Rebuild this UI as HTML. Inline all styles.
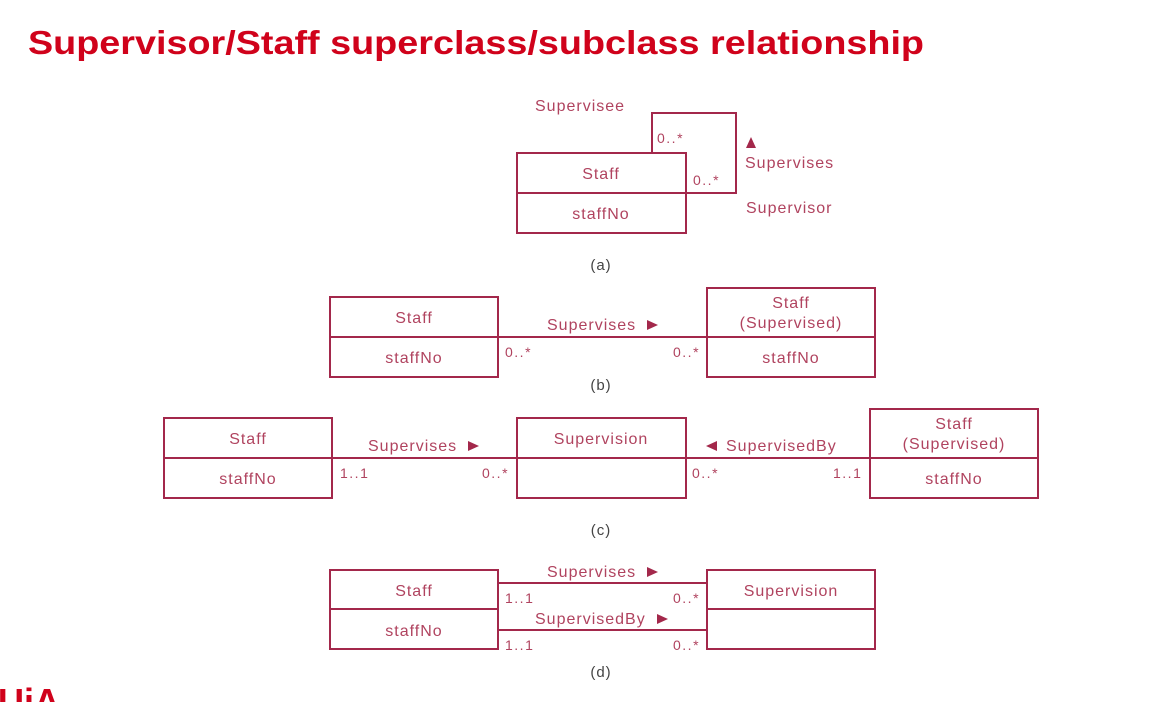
<!DOCTYPE html>
<html><head><meta charset="utf-8"><style>
html,body{margin:0;padding:0;background:#fff;width:1153px;height:702px;overflow:hidden}
svg{display:block}
text{font-family:"Liberation Sans",sans-serif}
.l{font-size:16px;fill:#b0435f;letter-spacing:1px}
.m{font-size:14px;fill:#b0435f;letter-spacing:1.5px}
.c{text-anchor:middle}
.r{fill:none;stroke:#a3284b;stroke-width:2}
.cap{font-size:15px;fill:#444;letter-spacing:1px}
</style></head><body>
<svg width="1153" height="702" viewBox="0 0 1153 702">
<text x="28" y="54" font-size="33" font-weight="bold" fill="#d0021b" textLength="896" lengthAdjust="spacingAndGlyphs">Supervisor/Staff superclass/subclass relationship</text>
<text x="-2" y="714" font-size="36" font-weight="bold" fill="#d0021b">UiA</text>

<!-- (a) -->
<rect class="r" x="517" y="153" width="169" height="80"/>
<line class="r" x1="517" y1="193" x2="686" y2="193"/>
<polyline class="r" points="652,153 652,113 736,113 736,193 686,193"/>
<text class="l c" x="601" y="179">Staff</text>
<text class="l c" x="601" y="219">staffNo</text>
<text class="l" x="535" y="111">Supervisee</text>
<text class="m" x="657" y="143">0..*</text>
<text class="m" x="693" y="185">0..*</text>
<polygon points="746,148 756,148 751,137" fill="#a3284b"/>
<text class="l" x="745" y="168">Supervises</text>
<text class="l" x="746" y="213">Supervisor</text>
<text class="cap c" x="601" y="270">(a)</text>

<!-- (b) -->
<rect class="r" x="330" y="297" width="168" height="80"/>
<line class="r" x1="330" y1="337" x2="498" y2="337"/>
<rect class="r" x="707" y="288" width="168" height="89"/>
<line class="r" x1="707" y1="337" x2="875" y2="337"/>
<line class="r" x1="498" y1="337" x2="707" y2="337"/>
<text class="l c" x="414" y="323">Staff</text>
<text class="l c" x="414" y="363">staffNo</text>
<text class="l c" x="791" y="308">Staff</text>
<text class="l c" x="791" y="328">(Supervised)</text>
<text class="l c" x="791" y="363">staffNo</text>
<text class="l" x="547" y="330">Supervises</text>
<polygon points="647,320 658,325 647,330" fill="#a3284b"/>
<text class="m" x="505" y="357">0..*</text>
<text class="m" x="673" y="357">0..*</text>
<text class="cap c" x="601" y="390">(b)</text>

<!-- (c) -->
<rect class="r" x="164" y="418" width="168" height="80"/>
<line class="r" x1="164" y1="458" x2="332" y2="458"/>
<rect class="r" x="517" y="418" width="169" height="80"/>
<line class="r" x1="517" y1="458" x2="686" y2="458"/>
<rect class="r" x="870" y="409" width="168" height="89"/>
<line class="r" x1="870" y1="458" x2="1038" y2="458"/>
<line class="r" x1="332" y1="458" x2="517" y2="458"/>
<line class="r" x1="686" y1="458" x2="870" y2="458"/>
<text class="l c" x="248" y="444">Staff</text>
<text class="l c" x="248" y="484">staffNo</text>
<text class="l c" x="601" y="444">Supervision</text>
<text class="l c" x="954" y="429">Staff</text>
<text class="l c" x="954" y="449">(Supervised)</text>
<text class="l c" x="954" y="484">staffNo</text>
<text class="l" x="368" y="451">Supervises</text>
<polygon points="468,441 479,446 468,451" fill="#a3284b"/>
<polygon points="717,441 706,446 717,451" fill="#a3284b"/>
<text class="l" x="726" y="451">SupervisedBy</text>
<text class="m" x="340" y="478">1..1</text>
<text class="m" x="482" y="478">0..*</text>
<text class="m" x="692" y="478">0..*</text>
<text class="m" x="833" y="478">1..1</text>
<text class="cap c" x="601" y="535">(c)</text>

<!-- (d) -->
<rect class="r" x="330" y="570" width="168" height="79"/>
<line class="r" x1="330" y1="609" x2="498" y2="609"/>
<rect class="r" x="707" y="570" width="168" height="79"/>
<line class="r" x1="707" y1="609" x2="875" y2="609"/>
<line class="r" x1="498" y1="583" x2="707" y2="583"/>
<line class="r" x1="498" y1="630" x2="707" y2="630"/>
<text class="l c" x="414" y="596">Staff</text>
<text class="l c" x="414" y="636">staffNo</text>
<text class="l c" x="791" y="596">Supervision</text>
<text class="l" x="547" y="577">Supervises</text>
<polygon points="647,567 658,572 647,577" fill="#a3284b"/>
<text class="l" x="535" y="624">SupervisedBy</text>
<polygon points="657,614 668,619 657,624" fill="#a3284b"/>
<text class="m" x="505" y="603">1..1</text>
<text class="m" x="673" y="603">0..*</text>
<text class="m" x="505" y="650">1..1</text>
<text class="m" x="673" y="650">0..*</text>
<text class="cap c" x="601" y="677">(d)</text>
</svg>
</body></html>
